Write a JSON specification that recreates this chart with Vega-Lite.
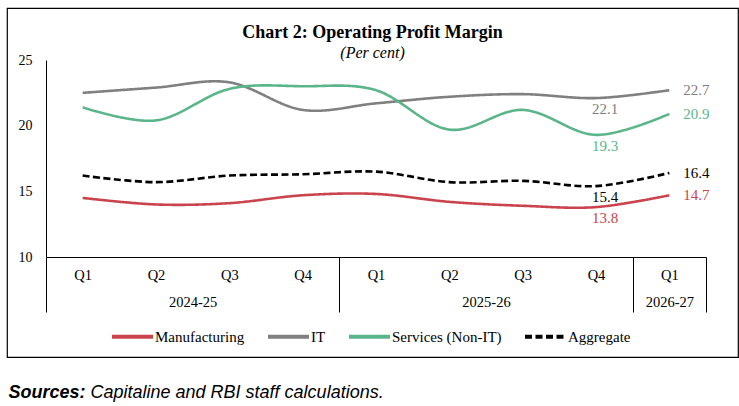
{
  "$schema": "https://vega.github.io/schema/vega-lite/v6.json",
  "width": 731,
  "height": 349,
  "autosize": {"type": "none"},
  "padding": {"left": 7, "top": 8, "right": 1, "bottom": 49},
  "background": "white",
  "config": {
    "font": "Liberation Serif",
    "view": {"stroke": "black", "strokeWidth": 1.2},
    "axis": {"grid": false, "labelColor": "black", "domainColor": "black", "labelFont": "Liberation Serif"},
    "legend": {
      "orient": "none",
      "legendX": 103,
      "legendY": 306,
      "direction": "horizontal",
      "padding": 0,
      "symbolType": "stroke",
      "symbolSize": 1681,
      "symbolStrokeWidth": 4,
      "labelOffset": 0,
      "columnPadding": 15,
      "labelFont": "Liberation Serif",
      "labelFontSize": 15,
      "labelColor": "black"
    }
  },
  "title": {
    "text": "Chart 2: Operating Profit Margin",
    "subtitle": "(Per cent)",
    "font": "Liberation Serif",
    "fontSize": 18,
    "fontWeight": "bold",
    "color": "black",
    "subtitleFont": "Liberation Serif",
    "subtitleFontSize": 16,
    "subtitleFontStyle": "italic",
    "subtitleColor": "black",
    "subtitlePadding": 3,
    "anchor": "middle",
    "frame": "group",
    "offset": -53
  },
  "datasets": {
    "margins": [
      {"period": "Q1 2024-25", "series": "Manufacturing", "value": 14.5},
      {"period": "Q2 2024-25", "series": "Manufacturing", "value": 14.0},
      {"period": "Q3 2024-25", "series": "Manufacturing", "value": 14.1},
      {"period": "Q4 2024-25", "series": "Manufacturing", "value": 14.7},
      {"period": "Q1 2025-26", "series": "Manufacturing", "value": 14.8},
      {"period": "Q2 2025-26", "series": "Manufacturing", "value": 14.2},
      {"period": "Q3 2025-26", "series": "Manufacturing", "value": 13.9},
      {"period": "Q4 2025-26", "series": "Manufacturing", "value": 13.8},
      {"period": "Q1 2026-27", "series": "Manufacturing", "value": 14.7},
      {"period": "Q1 2024-25", "series": "IT", "value": 22.5},
      {"period": "Q2 2024-25", "series": "IT", "value": 22.9},
      {"period": "Q3 2024-25", "series": "IT", "value": 23.3},
      {"period": "Q4 2024-25", "series": "IT", "value": 21.2},
      {"period": "Q1 2025-26", "series": "IT", "value": 21.7},
      {"period": "Q2 2025-26", "series": "IT", "value": 22.2},
      {"period": "Q3 2025-26", "series": "IT", "value": 22.4},
      {"period": "Q4 2025-26", "series": "IT", "value": 22.1},
      {"period": "Q1 2026-27", "series": "IT", "value": 22.7},
      {"period": "Q1 2024-25", "series": "Services (Non-IT)", "value": 21.4},
      {"period": "Q2 2024-25", "series": "Services (Non-IT)", "value": 20.4},
      {"period": "Q3 2024-25", "series": "Services (Non-IT)", "value": 22.8},
      {"period": "Q4 2024-25", "series": "Services (Non-IT)", "value": 23.0},
      {"period": "Q1 2025-26", "series": "Services (Non-IT)", "value": 22.7},
      {"period": "Q2 2025-26", "series": "Services (Non-IT)", "value": 19.7},
      {"period": "Q3 2025-26", "series": "Services (Non-IT)", "value": 21.2},
      {"period": "Q4 2025-26", "series": "Services (Non-IT)", "value": 19.3},
      {"period": "Q1 2026-27", "series": "Services (Non-IT)", "value": 20.9},
      {"period": "Q1 2024-25", "series": "Aggregate", "value": 16.2},
      {"period": "Q2 2024-25", "series": "Aggregate", "value": 15.7},
      {"period": "Q3 2024-25", "series": "Aggregate", "value": 16.2},
      {"period": "Q4 2024-25", "series": "Aggregate", "value": 16.3},
      {"period": "Q1 2025-26", "series": "Aggregate", "value": 16.5},
      {"period": "Q2 2025-26", "series": "Aggregate", "value": 15.7},
      {"period": "Q3 2025-26", "series": "Aggregate", "value": 15.8},
      {"period": "Q4 2025-26", "series": "Aggregate", "value": 15.4},
      {"period": "Q1 2026-27", "series": "Aggregate", "value": 16.4}
    ],
    "years": [
      {"year": "2024-25", "start": 0},
      {"year": "2025-26", "start": 4},
      {"year": "2026-27", "start": 8}
    ]
  },
  "layer": [
    {
      "data": {"name": "margins"},
      "encoding": {
        "x": {
          "field": "period",
          "type": "ordinal",
          "sort": null,
          "scale": {"type": "point", "range": [39, 699], "padding": 0.5},
          "axis": {
            "orient": "bottom",
            "offset": -100,
            "ticks": false,
            "tickSize": 0,
            "labelAngle": 0,
            "labelPadding": 11,
            "labelFontSize": 14.5,
            "labelExpr": "split(datum.value, ' ')[0]",
            "title": "Sources:",
            "titleFont": "Liberation Sans",
            "titleFontSize": 18,
            "titleFontStyle": "italic",
            "titleFontWeight": "bold",
            "titleColor": "black",
            "titleX": 1,
            "titleY": 135,
            "titleAlign": "left",
            "titleBaseline": "middle"
          }
        },
        "y": {
          "field": "value",
          "type": "quantitative",
          "scale": {"domain": [10, 25], "range": [249, 52], "nice": false, "zero": false},
          "axis": {
            "values": [10, 15, 20, 25],
            "offset": -39,
            "ticks": false,
            "tickSize": 0,
            "labelPadding": 14,
            "labelFontSize": 14,
            "title": null
          }
        },
        "color": {
          "field": "series",
          "type": "nominal",
          "scale": {
            "domain": ["Manufacturing", "IT", "Services (Non-IT)", "Aggregate"],
            "range": ["#c9444c", "#808080", "#5bb58a", "#000000"]
          },
          "title": null
        }
      },
      "layer": [
        {
          "mark": {"type": "line", "interpolate": "cardinal", "strokeWidth": 2.6},
          "encoding": {
            "strokeDash": {
              "field": "series",
              "type": "nominal",
              "scale": {
                "domain": ["Manufacturing", "IT", "Services (Non-IT)", "Aggregate"],
                "range": [[1, 0], [1, 0], [1, 0], [7, 3.5]]
              },
              "title": null
            }
          }
        },
        {
          "transform": [{"filter": "datum.period == 'Q4 2025-26'"}],
          "mark": {"type": "text", "dx": 9, "dy": 11, "baseline": "middle", "fontSize": 15, "font": "Liberation Serif"},
          "encoding": {
            "text": {"field": "value", "type": "quantitative", "format": ".1f"}
          }
        },
        {
          "transform": [{"filter": "datum.period == 'Q1 2026-27'"}],
          "mark": {"type": "text", "dx": 14, "align": "left", "baseline": "middle", "fontSize": 15, "font": "Liberation Serif"},
          "encoding": {
            "text": {"field": "value", "type": "quantitative", "format": ".1f"}
          }
        }
      ]
    },
    {
      "data": {"name": "years"},
      "mark": {"type": "rule", "opacity": 0},
      "encoding": {
        "x": {
          "field": "start",
          "type": "quantitative",
          "scale": {"domain": [0, 9], "range": [39, 699], "nice": false, "zero": false},
          "axis": {
            "orient": "bottom",
            "offset": -100,
            "domain": false,
            "values": [0, 2, 4, 6, 8, 8.5, 9],
            "tickSize": 55,
            "tickColor": "black",
            "tickWidth": 1,
            "tickOpacity": {"condition": {"test": "datum.value == 0 || datum.value == 4 || datum.value == 8 || datum.value == 9", "value": 1}, "value": 0},
            "labelExpr": "datum.value == 2 ? '2024-25' : datum.value == 6 ? '2025-26' : datum.value == 8.5 ? '2026-27' : ''",
            "labelPadding": -17,
            "labelFontSize": 14.5,
            "labelOverlap": false,
            "labelFlush": false,
            "labelBound": false,
            "title": "Capitaline and RBI staff calculations.",
            "titleFont": "Liberation Sans",
            "titleFontSize": 18,
            "titleFontStyle": "italic",
            "titleFontWeight": "normal",
            "titleColor": "black",
            "titleX": 83,
            "titleY": 135,
            "titleAlign": "left",
            "titleBaseline": "middle"
          }
        }
      }
    }
  ],
  "resolve": {"scale": {"x": "independent"}, "axis": {"x": "independent"}}
}
